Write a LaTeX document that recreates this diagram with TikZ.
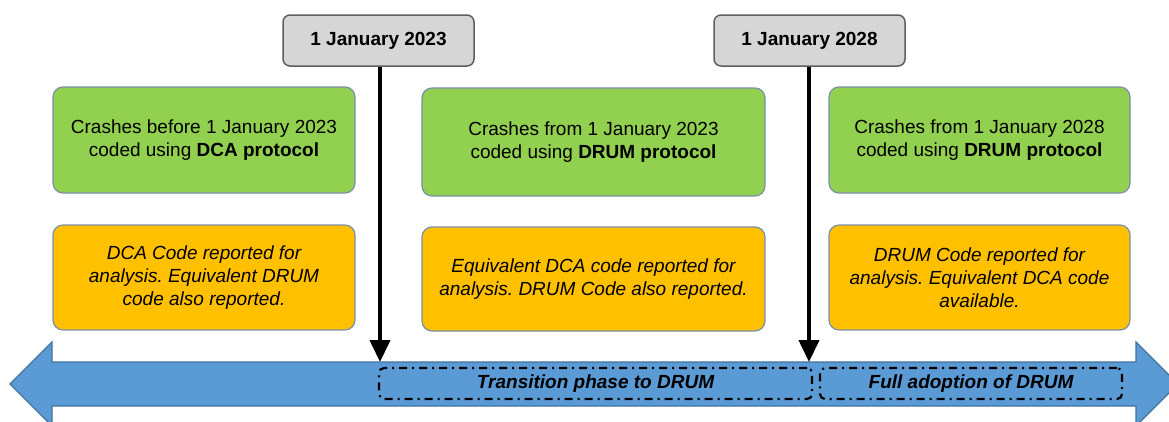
\documentclass[tikz,border=0pt]{standalone}
\usepackage{fontspec}
\setmainfont{Liberation Sans}
\frenchspacing
\usetikzlibrary{arrows.meta}
\definecolor{boxgreen}{HTML}{92D050}
\definecolor{boxorange}{HTML}{FFC000}
\definecolor{boxgray}{HTML}{D6D6D6}
\definecolor{arrowblue}{HTML}{5B9BD5}
\definecolor{arrowedge}{HTML}{41719C}
\definecolor{boxedge}{HTML}{7A8FA8}
\definecolor{grayedge}{HTML}{5E5E5E}
\tikzset{
  base/.style={font=\fontsize{19}{23}\selectfont, align=center, inner sep=0pt, rounded corners=10pt},
  greenbox/.style={base, fill=boxgreen, draw=boxedge, line width=1.2pt},
  orangebox/.style={base, fill=boxorange, draw=boxedge, line width=1.2pt, font=\fontsize{19}{23}\selectfont\itshape},
  datebox/.style={base, fill=boxgray, draw=grayedge, line width=1.5pt, font=\fontsize{19}{23}\selectfont\bfseries, rounded corners=7pt, minimum width=191pt, minimum height=51pt},
  phasebox/.style={base, draw=black, line width=2.2pt, dash pattern=on 8pt off 5pt on 2pt off 5pt, rounded corners=5pt, minimum height=31pt, font=\fontsize{19}{23}\selectfont\bfseries\itshape},
  pointer/.style={line width=4pt, -{Triangle[width=20pt,length=22pt]}}
}
\begin{document}
\begin{tikzpicture}[x=1pt,y=-1pt]
\useasboundingbox (0,0) rectangle (1169,421);
\clip (0,0) rectangle (1169,421);
% big double arrow
\draw[fill=arrowblue, draw=arrowedge, line width=1.2pt, line join=miter]
  (10,384) -- (52,342) -- (52,362) -- (1136,362) -- (1136,342) -- (1178,384)
  -- (1136,426) -- (1136,406) -- (52,406) -- (52,426) -- cycle;
% phase boxes
\node[phasebox, minimum width=433pt] (p1) at (595.5,383.5) {Transition phase to DRUM};
\node[phasebox, minimum width=302pt] (p2) at (971,383.5) {Full adoption of DRUM};
% date boxes
\node[datebox] (d1) at (378.5,40.5) {1 January 2023};
\node[datebox] (d2) at (809.5,40.5) {1 January 2028};
\coordinate (t1) at (380,362);
\coordinate (t2) at (809,362);
\draw[pointer] (d1.south -| t1) -- (t1);
\draw[pointer] (d2.south -| t2) -- (t2);
% green boxes
\node[greenbox, minimum width=302pt, minimum height=106pt] (g1) at (204,140)
  {Crashes before 1 January 2023\\coded using \textbf{DCA protocol}};
\node[greenbox, minimum width=343pt, minimum height=108pt] (g2) at (593.5,142)
  {Crashes from 1 January 2023\\coded using \textbf{DRUM protocol}};
\node[greenbox, minimum width=301pt, minimum height=106pt] (g3) at (979.5,140)
  {Crashes from 1 January 2028\\coded using \textbf{DRUM protocol}};
% orange boxes
\node[orangebox, minimum width=302pt, minimum height=105pt] (o1) at (204,277.5)
  {DCA Code reported for\\analysis. Equivalent DRUM\\code also reported.};
\node[orangebox, minimum width=343pt, minimum height=104pt] (o2) at (593.5,279)
  {Equivalent DCA code reported for\\analysis. DRUM Code also reported.};
\node[orangebox, minimum width=301pt, minimum height=105pt] (o3) at (979.5,277.5)
  {DRUM Code reported for\\analysis. Equivalent DCA code\\available.};
\end{tikzpicture}
\end{document}
